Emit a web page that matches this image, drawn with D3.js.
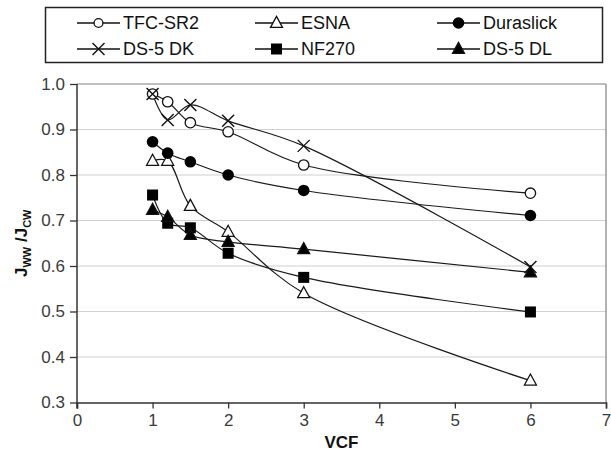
<!DOCTYPE html>
<html><head><meta charset="utf-8">
<script src="https://cdn.jsdelivr.net/npm/d3@7"></script>
<style>body{margin:0;background:#fff}svg{display:block;font-family:"Liberation Sans",Arial,sans-serif}</style>
</head><body><svg id="c" width="611" height="458"></svg>
<script>
const vcf = [1, 1.2, 1.5, 2, 3, 6];
const seriesNames = ["TFC-SR2", "ESNA", "Duraslick", "DS-5 DK", "NF270", "DS-5 DL"];
const tfcSr2 = [0.978, 0.961, 0.915, 0.895, 0.822, 0.760];
const esna = [0.831, 0.831, 0.732, 0.675, 0.540, 0.348];
const duraslick = [0.873, 0.848, 0.829, 0.800, 0.766, 0.711];
const ds5dk = [0.978, 0.921, 0.954, 0.919, 0.864, 0.598];
const nf270 = [0.756, 0.694, 0.684, 0.628, 0.575, 0.499];
const ds5dl = [0.723, 0.708, 0.668, 0.653, 0.637, 0.586];
const xTicks = [0, 1, 2, 3, 4, 5, 6, 7];
const yTicks = [0.3, 0.4, 0.5, 0.6, 0.7, 0.8, 0.9, 1.0];
const markers = ["circleOpen", "triangleOpen", "circleFilled", "cross", "square", "triangleFilled"];
const values = [tfcSr2, esna, duraslick, ds5dk, nf270, ds5dl];

const svg = d3.select("#c");
const L = 77, R = 606, T = 84, B = 402.5;
const x = d3.scaleLinear().domain([0, 7]).range([L, R]);
const y = d3.scaleLinear().domain([0.3, 1.0]).range([B, T]);

// gridlines
svg.append("g").selectAll("line").data(yTicks.filter(d => d > 0.3)).join("line")
  .attr("x1", L).attr("x2", R).attr("y1", d => y(d)).attr("y2", d => y(d))
  .attr("stroke", d => d === 1.0 ? "#aaa" : "#d0d0d0").attr("stroke-width", d => d === 1.0 ? 1.5 : 1.2);
svg.append("line").attr("x1", R).attr("x2", R).attr("y1", T).attr("y2", B)
  .attr("stroke", "#999").attr("stroke-width", 1.5);

// axes
const xAxis = svg.append("g").attr("transform", `translate(0,${B})`)
  .call(d3.axisBottom(x).tickValues(xTicks).tickSize(6).tickPadding(5).tickFormat(d3.format("d")));
const yAxis = svg.append("g").attr("transform", `translate(${L},0)`)
  .call(d3.axisLeft(y).tickValues(yTicks).tickSize(7).tickPadding(5).tickFormat(d3.format(".1f")));
[xAxis, yAxis].forEach(a => {
  a.select(".domain").attr("stroke", "#333").attr("stroke-width", 1.5);
  a.selectAll(".tick line").attr("stroke", "#333").attr("stroke-width", 1.3);
  a.selectAll("text").attr("font-size", 17).attr("fill", "#3a3a3a")
    .attr("font-family", "Liberation Sans, Arial, sans-serif");
});
yAxis.select(".domain").attr("d", `M-0,${B + 6}V${T}`);

// lines
const line = d3.line().x((d, i) => x(vcf[i])).y(d => y(d)).curve(d3.curveCatmullRom.alpha(0.5));
values.forEach(v => {
  svg.append("path").attr("d", line(v)).attr("fill", "none")
    .attr("stroke", "#1a1a1a").attr("stroke-width", 1.2);
});

function drawMarker(g, type, cx, cy, s) {
  const k = s || 1;
  if (type === "circleOpen") g.append("circle").attr("cx", cx).attr("cy", cy).attr("r", 5.2 * k).attr("fill", "#fff").attr("stroke", "#111").attr("stroke-width", 1.3);
  else if (type === "circleFilled") g.append("circle").attr("cx", cx).attr("cy", cy).attr("r", 5.8 * k).attr("fill", "#000");
  else if (type === "square") g.append("rect").attr("x", cx - 5.5 * k).attr("y", cy - 5.5 * k).attr("width", 11 * k).attr("height", 11 * k).attr("fill", "#000");
  else if (type === "triangleOpen" || type === "triangleFilled") {
    const h = 11 * k, w = 12 * k;
    g.append("path").attr("d", `M${cx},${cy - h * 0.6}L${cx + w / 2},${cy + h * 0.4}L${cx - w / 2},${cy + h * 0.4}Z`)
      .attr("fill", type === "triangleOpen" ? "#fff" : "#000").attr("stroke", "#111").attr("stroke-width", 1.3);
  } else if (type === "cross") {
    const r = 6 * k;
    g.append("path").attr("d", `M${cx - r},${cy - r}L${cx + r},${cy + r}M${cx - r},${cy + r}L${cx + r},${cy - r}`)
      .attr("stroke", "#111").attr("stroke-width", 1.4);
  }
}
const mg = svg.append("g");
values.forEach((v, si) => {
  v.forEach((d, i) => drawMarker(mg, markers[si], x(vcf[i]), y(d)));
});

// legend
const lg = svg.append("g");
lg.append("rect").attr("x", 45.5).attr("y", 7.5).attr("width", 557).attr("height", 55)
  .attr("fill", "#fff").attr("stroke", "#222").attr("stroke-width", 1.5);
const colX = [77, 255, 437];
const rowY = [23, 49];
seriesNames.forEach((n, i) => {
  const cx = colX[i % 3], cy = rowY[Math.floor(i / 3)];
  lg.append("line").attr("x1", cx).attr("x2", cx + 43).attr("y1", cy).attr("y2", cy)
    .attr("stroke", "#111").attr("stroke-width", 1.3);
  drawMarker(lg, markers[i], cx + 21.5, cy, markers[i] === "circleOpen" ? 0.85 : 1);
  lg.append("text").attr("x", cx + 46).attr("y", cy).attr("dy", "0.35em")
    .attr("font-size", 18).attr("fill", "#111").text(n);
});

// axis titles
svg.append("text").attr("x", (L + R) / 2).attr("y", 448).attr("text-anchor", "middle")
  .attr("font-size", 17).attr("font-weight", "bold").attr("fill", "#111").text("VCF");
const yl = svg.append("text").attr("transform", `translate(27,${(T + B) / 2}) rotate(-90)`)
  .attr("text-anchor", "middle").attr("font-size", 17).attr("font-weight", "bold").attr("fill", "#111");
yl.append("tspan").text("J");
yl.append("tspan").attr("font-size", 11).attr("dy", 4).text("WW");
yl.append("tspan").attr("dy", -4).text(" /J");
yl.append("tspan").attr("font-size", 11).attr("dy", 4).text("CW");
</script></body></html>
